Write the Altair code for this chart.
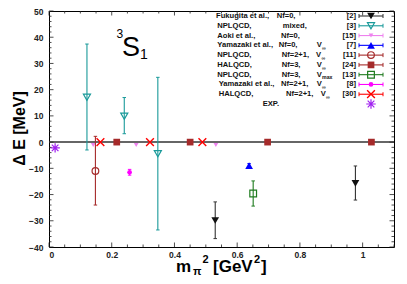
import altair as alt
import pandas as pd

FONT = "Liberation Sans"
W, H = 345, 236
X0, Y0 = 49, 11  # page position of plot origin (for text layout)

# ---------------- data ----------------
fuk_x = [0.530, 0.977]; fuk_y = [-29.9, -15.7]; fuk_lo = [-36.8, -22.1]; fuk_hi = [-22.8, -9.1]
nplm_x = [0.121, 0.240, 0.347]; nplm_y = [17.1, 9.9, -4.4]; nplm_lo = [-3.0, 3.2, -33.5]; nplm_hi = [37.4, 17.0, 24.7]
aoki_x = [0.141, 0.278, 0.532]; aoki_y = [-1.1, -1.1, -1.1]
yam0_x = [0.638]; yam0_y = [-9.0]; yam0_lo = [-9.8]; yam0_hi = [-8.2]
npl21_x = [0.148]; npl21_y = [-11.0]; npl21_lo = [-24.0]; npl21_hi = [2.2]
hal3_x = [0.216, 0.450, 0.697, 1.028]; hal3_y = [0.0, 0.0, 0.0, 0.0]
npl3_x = [0.651]; npl3_y = [-19.6]; npl3_lo = [-24.4]; npl3_hi = [-14.8]
yam21_x = [0.257]; yam21_y = [-11.5]; yam21_lo = [-12.6]; yam21_hi = [-10.4]
hal21_x = [0.164, 0.322, 0.489]; hal21_y = [0.0, 0.0, 0.0]
exp_x = [0.0195]; exp_y = [-2.2]

leg_names = ["Fukugita et al.,", "NPLQCD,", "Aoki et al.,", "Yamazaki et al.,", "NPLQCD,",
             "HALQCD,", "NPLQCD,", "Yamazaki et al.,", "HALQCD,", "EXP."]
leg_nf = ["Nf=0,", "mixed,", "Nf=0,", "Nf=0,", "Nf=2+1,", "Nf=3,", "Nf=3,", "Nf=2+1,", "Nf=2+1,", ""]
leg_vsub = ["", "", "", "\u221e", "\u221e", "\u221e", "max", "\u221e", "\u221e", ""]
leg_refs = ["[2]", "[3]", "[15]", "[7]", "[11]", "[24]", "[13]", "[8]", "[30]", ""]

y_major = [-40, -30, -20, -10, 0, 10, 20, 30, 40, 50]
y_minor = [v for v in range(-40, 51, 2) if v % 10 != 0]
x_major = [0, 0.2, 0.4, 0.6, 0.8, 1.0]
x_minor = [round(0.05 * i, 2) for i in range(0, 23) if i % 4 != 0]

# ---------------- layout (page px) ----------------
name_px = [216, 217.3, 217.3, 217.3, 217.3, 217.3, 217.3, 218.7, 218.7, 262.7]
nf_px = [276.7, 282.7, 281, 278.7, 281.7, 281.7, 281.7, 281, 286, 0]
v_px = [0, 0, 0, 316.7, 316, 316.7, 316.7, 316.7, 320.7, 0]
REF_PX = 356
row_py = [16 + i * 9.78 for i in range(10)]
LFS = 7.6

XS = alt.Scale(domain=[0, 1.1], nice=False, zero=False)
YS = alt.Scale(domain=[-40, 50], nice=False, zero=False)
XAX = alt.Axis(values=x_major, format="~g", ticks=False, domain=False, grid=False, title=None,
               labelFont=FONT, labelFontSize=8.5, labelFontWeight="bold", labelColor="#222",
               labelPadding=3)
YAX = alt.Axis(values=y_major, ticks=False, domain=False, grid=False, title=None,
               labelFont=FONT, labelFontSize=8.5, labelFontWeight="bold", labelColor="#222",
               labelPadding=6)

ASTER = "M-1,0L1,0M0,-1L0,1M-0.7,-0.7L0.7,0.7M-0.7,0.7L0.7,-0.7"
XSHAPE = "M-1,-1L1,1M-1,1L1,-1"
HCAP = "M-1,0L1,0"
VCAP = "M0,-1L0,1"

series = [
    dict(x=fuk_x, y=fuk_y, lo=fuk_lo, hi=fuk_hi, color="#111111", bar="#333333", shape="triangle-down", filled=True, size=60, sw=1),
    dict(x=nplm_x, y=nplm_y, lo=nplm_lo, hi=nplm_hi, color="#1a9a9a", bar="#1a9a9a", shape="triangle-down", filled=False, size=50, sw=1.2),
    dict(x=aoki_x, y=aoki_y, lo=None, hi=None, color="#ee82ee", bar="#ee82ee", shape="triangle-down", filled=True, size=22, sw=1),
    dict(x=yam0_x, y=yam0_y, lo=yam0_lo, hi=yam0_hi, color="#0000ff", bar="#0000ff", shape="triangle-up", filled=True, size=60, sw=1),
    dict(x=npl21_x, y=npl21_y, lo=npl21_lo, hi=npl21_hi, color="#a52a2a", bar="#a52a2a", shape="circle", filled=False, size=45, sw=1.2),
    dict(x=hal3_x, y=hal3_y, lo=None, hi=None, color="#a52a2a", bar="#a52a2a", shape="square", filled=True, size=45, sw=1),
    dict(x=npl3_x, y=npl3_y, lo=npl3_lo, hi=npl3_hi, color="#1e7b1e", bar="#1e7b1e", shape="square", filled=False, size=45, sw=1.2),
    dict(x=yam21_x, y=yam21_y, lo=yam21_lo, hi=yam21_hi, color="#ff00ff", bar="#ff00ff", shape="circle", filled=True, size=22, sw=1),
    dict(x=hal21_x, y=hal21_y, lo=None, hi=None, color="#ff0000", bar="#ff0000", shape=XSHAPE, filled=False, size=60, sw=1.4),
    dict(x=exp_x, y=exp_y, lo=None, hi=None, color="#a020f0", bar="#a020f0", shape=ASTER, filled=False, size=90, sw=1.2),
]

layers = []

# zero line
layers.append(alt.Chart(pd.DataFrame({"y": [0]})).mark_rule(color="#333333", strokeWidth=1.5).encode(
    y=alt.Y("y:Q", scale=YS, axis=YAX)))

for s in series:
    df = pd.DataFrame({"x": s["x"], "y": s["y"]})
    X = alt.X("x:Q", scale=XS, axis=XAX)
    if s["lo"] is not None:
        df["lo"] = s["lo"]; df["hi"] = s["hi"]
        base = alt.Chart(df)
        layers.append(base.mark_rule(color=s["bar"], strokeWidth=1.1).encode(
            x=X, y=alt.Y("lo:Q", scale=YS, axis=YAX), y2="hi:Q"))
        for c in ["lo", "hi"]:
            layers.append(base.mark_point(shape=HCAP, size=12, filled=False, color=s["bar"], strokeWidth=1, opacity=1).encode(
                x=X, y=alt.Y(c + ":Q", scale=YS, axis=YAX)))
    layers.append(alt.Chart(df).mark_point(shape=s["shape"], filled=s["filled"], size=s["size"], color=s["color"],
                                           strokeWidth=s["sw"], opacity=1).encode(
        x=X, y=alt.Y("y:Q", scale=YS, axis=YAX)))

# inward axis ticks
one = pd.DataFrame({"v": [0]})
def tick_layers(vals, length, axis):
    d = pd.DataFrame({"v": vals})
    c = alt.Chart(d).mark_rule(color="#222", strokeWidth=0.8)
    if axis == "y":
        return [c.encode(y=alt.Y("v:Q", scale=YS, axis=YAX), x=alt.value(0), x2=alt.value(length)),
                c.encode(y=alt.Y("v:Q", scale=YS, axis=YAX), x=alt.value(W), x2=alt.value(W - length))]
    return [c.encode(x=alt.X("v:Q", scale=XS, axis=XAX), y=alt.value(H), y2=alt.value(H - length)),
            c.encode(x=alt.X("v:Q", scale=XS, axis=XAX), y=alt.value(0), y2=alt.value(length))]

layers += tick_layers(y_major, 4.5, "y") + tick_layers(y_minor, 2.5, "y")
layers += tick_layers(x_major, 4.5, "x") + tick_layers(x_minor, 2.5, "x")

# legend
def txt(text, px, py, size=LFS, align="left", baseline="middle", weight="bold", color="#111"):
    return alt.Chart(one).mark_text(text=text, font=FONT, fontSize=size, fontWeight=weight, align=align,
                                    baseline=baseline, color=color).encode(
        x=alt.value(px - X0), y=alt.value(py - Y0))

for i in range(10):
    py = row_py[i]
    layers.append(txt(leg_names[i], name_px[i], py))
    if leg_nf[i]:
        layers.append(txt(leg_nf[i], nf_px[i], py))
    if leg_vsub[i]:
        layers.append(txt("V", v_px[i], py))
        layers.append(txt(leg_vsub[i], v_px[i] + 5.4, py + 2.6, size=5.2))
    if leg_refs[i]:
        layers.append(txt(leg_refs[i], REF_PX, py, align="right"))
    s = series[i]
    ly = py - Y0
    if i < 9:
        layers.append(alt.Chart(one).mark_rule(color=s["bar"], strokeWidth=1.1).encode(
            x=alt.value(359 - X0), x2=alt.value(383 - X0), y=alt.value(ly)))
        for ex in [359, 383]:
            layers.append(alt.Chart(one).mark_point(shape=VCAP, size=16, filled=False, color=s["bar"], strokeWidth=1, opacity=1).encode(
                x=alt.value(ex - X0), y=alt.value(ly)))
    layers.append(alt.Chart(one).mark_point(shape=s["shape"], filled=s["filled"], size=s["size"], color=s["color"],
                                            strokeWidth=s["sw"], opacity=1).encode(
        x=alt.value(371 - X0), y=alt.value(ly)))

# 3S1 label
layers.append(txt("3", 116.5, 38, size=12, baseline="alphabetic", weight="normal", color="#000"))
layers.append(txt("S", 122, 55.5, size=27, baseline="alphabetic", weight="normal", color="#000"))
layers.append(txt("1", 140, 58.5, size=14, baseline="alphabetic", weight="normal", color="#000"))

# axis titles
layers.append(alt.Chart(one).mark_text(text="\u0394 E [MeV]", font=FONT, fontSize=16, fontWeight="bold", angle=270,
                                       align="center", baseline="middle", color="#000").encode(
    x=alt.value(20 - X0), y=alt.value(128.5 - Y0)))
layers.append(txt("m", 176, 272, size=17, baseline="alphabetic", color="#000"))
layers.append(txt("\u03c0", 193, 275, size=11, baseline="alphabetic", color="#000"))
layers.append(txt("2", 202.5, 263, size=11, baseline="alphabetic", color="#000"))
layers.append(txt("[GeV", 213, 272, size=17, baseline="alphabetic", color="#000"))
layers.append(txt("2", 254, 263, size=11, baseline="alphabetic", color="#000"))
layers.append(txt("]", 261, 272, size=17, baseline="alphabetic", color="#000"))

chart = alt.layer(*layers).properties(
    width=W, height=H,
    autosize=alt.AutoSizeParams(type="none"),
    padding={"left": 41, "top": 3, "right": 5, "bottom": 29},
    background="white",
).configure_view(stroke="#000", strokeWidth=1)

chart.save("out.html", embed_options={"renderer": "svg", "actions": False})
